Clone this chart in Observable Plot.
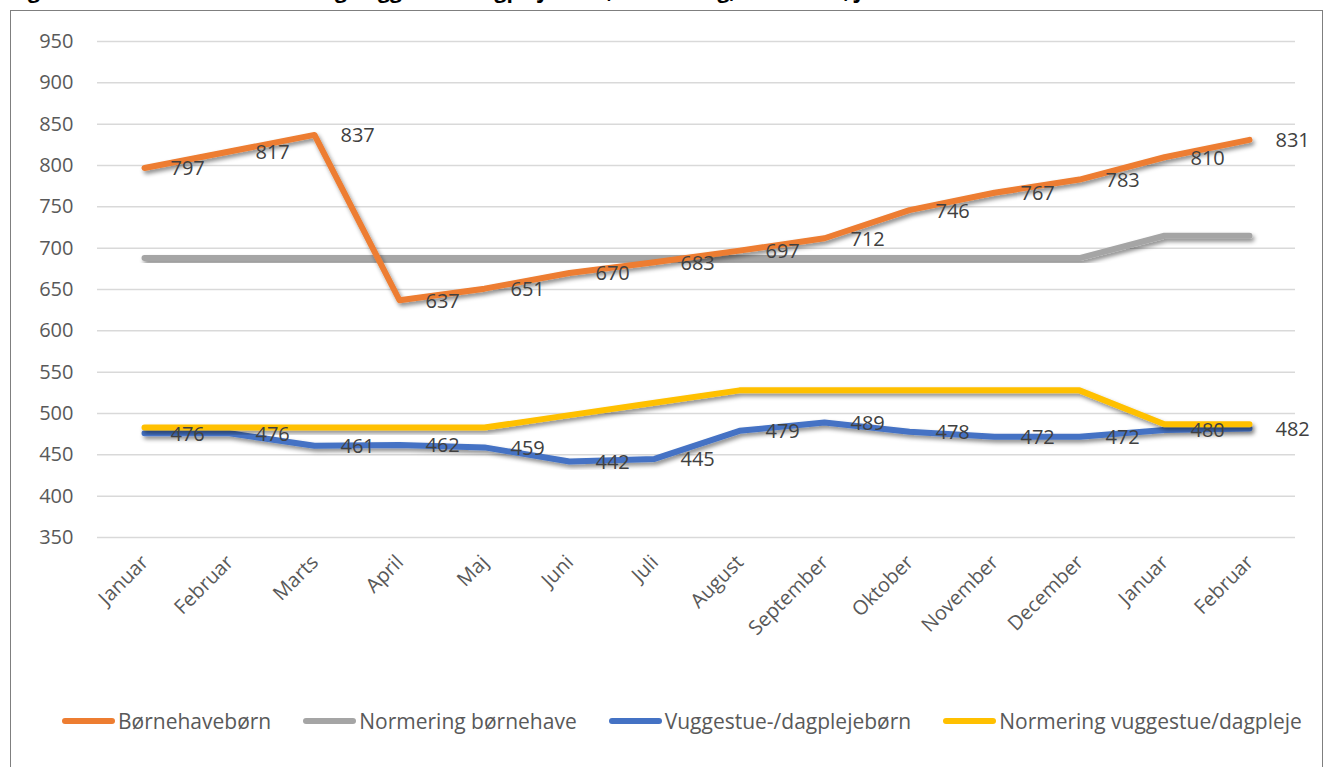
<!DOCTYPE html>
<html><head><meta charset="utf-8">
<script src="https://cdn.jsdelivr.net/npm/d3@7"></script>
<script src="https://cdn.jsdelivr.net/npm/@observablehq/plot@0.6"></script>
<style>
body{margin:0;background:#fff;font-family:"Open Sans",sans-serif;width:1328px;height:767px;overflow:hidden;position:relative}
#title{position:absolute;left:10px;top:0;height:6px;overflow:hidden;width:1300px}
#title span{display:block;font:bold 21px "Open Sans";line-height:22px;margin-top:-21px;white-space:nowrap;color:#000}
#frame{position:absolute;left:10px;top:10px;width:1311px;height:800px;border:1px solid #7f7f7f}
#chart{position:absolute;left:0;top:0}
#legend{position:absolute;left:62px;top:707px;display:flex;gap:32px;align-items:center;font-size:21px;color:#595959;white-space:nowrap}
.item{display:flex;align-items:center}
.sw{width:53px;height:6px;border-radius:3px;margin-right:3px}
</style></head>
<body>
<div id="title"><span>Figur 1: Antal børnehavebørn og vuggestue/dagplejebørn, normering, 2019-2020, januar-februar</span></div>
<div id="frame"></div>
<div id="chart"></div>
<div id="legend"></div>
<script>
const months = ["Januar","Februar","Marts","April","Maj","Juni","Juli","August","September","Oktober","November","December","Januar","Februar"];
const boernehave = [797,817,837,637,651,670,683,697,712,746,767,783,810,831];
const normBoernehave = [688,688,688,688,688,688,688,688,688,688,688,688,715,715];
const vuggestue = [476,476,461,462,459,442,445,479,489,478,472,472,480,482];
const normVuggestue = [483,483,483,483,483,498,513,528,528,528,528,528,487,487];
const seriesNames = ["Børnehavebørn","Normering børnehave","Vuggestue-/dagplejebørn","Normering vuggestue/dagpleje"];
const colors = ["#ED7D31","#A5A5A5","#4472C4","#FFC000"];
const yTicks = d3.range(350, 951, 50);

const rows = (vals) => vals.map((v,i)=>({i, v}));
const lineOpts = (c) => ({x:"i", y:"v", stroke:c, strokeWidth:6, strokeLinecap:"round", strokeLinejoin:"round"});
const labelOpts = {x:"i", y:"v", text:d=>String(d.v), textAnchor:"start", dx:26, dy:1, fill:"#404040", fontSize:20};

const plot = Plot.plot({
  width:1328, height:680,
  marginLeft:97, marginRight:33, marginTop:41, marginBottom:143,
  x:{type:"point", domain:d3.range(months.length), padding:0.5, axis:null},
  y:{domain:[350,950], axis:null},
  style:{fontFamily:"Open Sans", fontSize:"20px", color:"#595959", background:"transparent", overflow:"visible"},
  marks:[
    Plot.gridY(yTicks, {stroke:"#d9d9d9", strokeOpacity:1, strokeWidth:1.5}),
    Plot.axisY(yTicks, {tickSize:0, tickPadding:24, fontSize:20, fill:"#595959", label:null, tickFormat:d=>String(d)}),
    Plot.text(months.map((m,i)=>({i,m})), {x:"i", text:"m", frameAnchor:"bottom", dx:5, dy:26, rotate:-45, textAnchor:"end", fill:"#595959", fontSize:20}),
    Plot.line(rows(normBoernehave), lineOpts(colors[1])),
    Plot.line(rows(boernehave), lineOpts(colors[0])),
    Plot.line(rows(vuggestue), lineOpts(colors[2])),
    Plot.line(rows(normVuggestue), lineOpts(colors[3])),
    Plot.text(rows(boernehave), labelOpts),
    Plot.text(rows(vuggestue), labelOpts)
  ]
});
document.getElementById("chart").appendChild(plot);

// drop shadow like the original
const svg = d3.select(plot);
const defs = svg.insert("defs", ":first-child");
const f = defs.append("filter").attr("id","shadow").attr("x","-5%").attr("y","-20%").attr("width","110%").attr("height","140%");
f.append("feDropShadow").attr("dx",2).attr("dy",3).attr("stdDeviation",2).attr("flood-color","#000").attr("flood-opacity",0.45);
svg.selectAll('g[aria-label="line"]').attr("filter","url(#shadow)");

const legend = d3.select("#legend");
seriesNames.forEach((n,k)=>{
  const it = legend.append("div").attr("class","item");
  it.append("div").attr("class","sw").style("background", colors[k]);
  it.append("span").text(n);
});
</script>
</body></html>
